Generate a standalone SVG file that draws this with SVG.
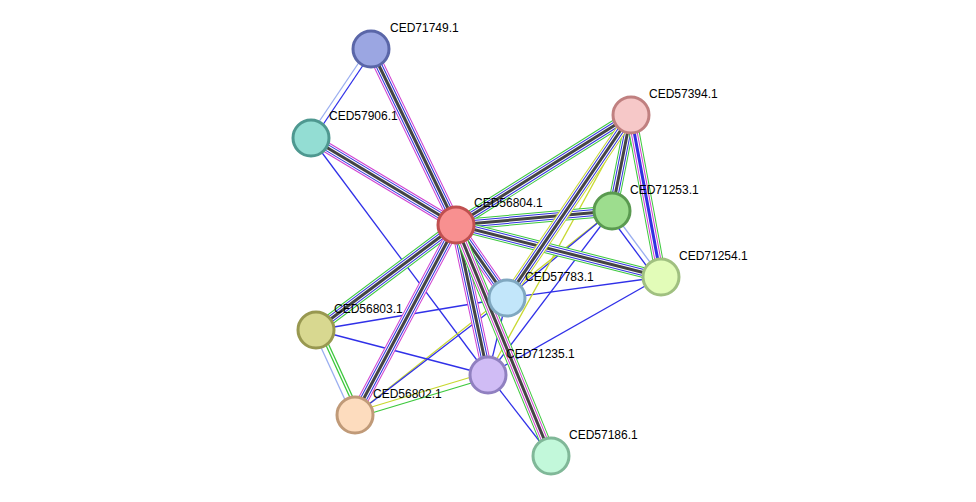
<svg xmlns="http://www.w3.org/2000/svg" width="976" height="502" viewBox="0 0 976 502">
<style>
.n{stroke-width:3}
text{font-family:"Liberation Sans",Arial,sans-serif;font-size:12px;fill:#000}
.a{stroke:#3cc83c;stroke-width:11}
.w1{stroke:#fff;stroke-width:9}
.b{stroke:#3030e0;stroke-width:7}
.w2{stroke:#fff;stroke-width:5}
.k{stroke:#444;stroke-width:3}
.m{stroke:#d040d0;stroke-width:11}
.t{stroke:#3030e8;stroke-width:1.3}
.y{stroke:#c8d830;stroke-width:1.3}
.lb{stroke:#9aaef0;stroke-width:1.3}
</style>
<defs>
<g id="dummy"/>
</defs>
<g id="edges" fill="none">
<g id="thin">
<line class="lb" x1="368" y1="49" x2="308" y2="138"/><line class="t" x1="374" y1="49" x2="314" y2="138"/>
<line class="t" x1="311" y1="138" x2="488" y2="375"/>
<line class="y" x1="612" y1="211" x2="355" y2="415"/>
<line class="t" x1="612" y1="211" x2="507" y2="298"/>
<line class="lb" x1="612" y1="211" x2="661" y2="277"/><line class="t" x1="608" y1="214" x2="657" y2="280"/>
<line class="t" x1="612" y1="211" x2="488" y2="375"/>
<line class="t" x1="661" y1="277" x2="507" y2="298"/>
<line class="t" x1="661" y1="277" x2="488" y2="375"/>
<line class="t" x1="507" y1="298" x2="316" y2="330"/>
<line class="t" x1="507" y1="298" x2="355" y2="415"/>
<line class="t" x1="507" y1="298" x2="488" y2="375"/>
<line class="t" x1="316" y1="330" x2="488" y2="375"/>
<line class="lb" x1="313" y1="330" x2="352" y2="415"/><line class="a" style="stroke-width:1.3" x1="319" y1="330" x2="358" y2="415"/><line class="a" style="stroke-width:1.3" x1="322" y1="330" x2="361" y2="415"/>
<line class="y" x1="355" y1="412" x2="488" y2="372"/><line class="a" style="stroke-width:1.3" x1="355" y1="418" x2="488" y2="378"/>
<line class="t" x1="488" y1="375" x2="551" y2="456"/>
<line class="y" x1="631" y1="115" x2="488" y2="375"/>
</g>
<g id="bundles">
<g id="b1"><line class="m" x1="456" y1="225" x2="371" y2="49"/><line class="w1" x1="456" y1="225" x2="371" y2="49"/><line class="b" x1="456" y1="225" x2="371" y2="49"/><line class="w2" x1="456" y1="225" x2="371" y2="49"/><line class="k" x1="456" y1="225" x2="371" y2="49"/></g>
<g id="b2"><line class="m" x1="456" y1="225" x2="311" y2="138"/><line class="w1" x1="456" y1="225" x2="311" y2="138"/><line class="b" x1="456" y1="225" x2="311" y2="138"/><line class="w2" x1="456" y1="225" x2="311" y2="138"/><line class="k" x1="456" y1="225" x2="311" y2="138"/></g>
<g id="b3"><line class="a" x1="456" y1="225" x2="631" y2="115"/><line class="w1" x1="456" y1="225" x2="631" y2="115"/><line class="b" x1="456" y1="225" x2="631" y2="115"/><line class="w2" x1="456" y1="225" x2="631" y2="115"/><line class="k" x1="456" y1="225" x2="631" y2="115"/></g>
<g id="b4"><line class="a" x1="456" y1="225" x2="612" y2="211"/><line class="w1" x1="456" y1="225" x2="612" y2="211"/><line class="b" x1="456" y1="225" x2="612" y2="211"/><line class="w2" x1="456" y1="225" x2="612" y2="211"/><line class="k" x1="456" y1="225" x2="612" y2="211"/></g>
<g id="b5"><line class="a" x1="456" y1="225" x2="661" y2="277"/><line class="w1" x1="456" y1="225" x2="661" y2="277"/><line class="b" x1="456" y1="225" x2="661" y2="277"/><line class="w2" x1="456" y1="225" x2="661" y2="277"/><line class="k" x1="456" y1="225" x2="661" y2="277"/></g>
<g id="b6"><line class="m" x1="456" y1="225" x2="507" y2="298"/><line class="w1" x1="456" y1="225" x2="507" y2="298"/><line class="b" x1="456" y1="225" x2="507" y2="298"/><line class="w2" x1="456" y1="225" x2="507" y2="298"/><line class="k" x1="456" y1="225" x2="507" y2="298"/></g>
<g id="b7"><line class="a" x1="456" y1="225" x2="316" y2="330"/><line class="w1" x1="456" y1="225" x2="316" y2="330"/><line class="b" x1="456" y1="225" x2="316" y2="330"/><line class="w2" x1="456" y1="225" x2="316" y2="330"/><line class="k" x1="456" y1="225" x2="316" y2="330"/></g>
<g id="b8"><line class="m" x1="456" y1="225" x2="355" y2="415"/><line class="w1" x1="456" y1="225" x2="355" y2="415"/><line class="b" x1="456" y1="225" x2="355" y2="415"/><line class="w2" x1="456" y1="225" x2="355" y2="415"/><line class="k" x1="456" y1="225" x2="355" y2="415"/></g>
<g id="b9"><line class="m" x1="456" y1="225" x2="488" y2="375"/><line class="w1" x1="456" y1="225" x2="488" y2="375"/><line class="b" x1="456" y1="225" x2="488" y2="375"/><line class="w2" x1="456" y1="225" x2="488" y2="375"/><line class="k" x1="456" y1="225" x2="488" y2="375"/></g>
<g id="b10"><line class="a" x1="456" y1="225" x2="551" y2="456"/><line class="w1" x1="456" y1="225" x2="551" y2="456"/><line class="m" style="stroke-width:7" x1="456" y1="225" x2="551" y2="456"/><line class="w2" x1="456" y1="225" x2="551" y2="456"/><line class="k" x1="456" y1="225" x2="551" y2="456"/></g>
<g id="b11"><line class="a" x1="631" y1="115" x2="612" y2="211"/><line class="w1" x1="631" y1="115" x2="612" y2="211"/><line class="b" x1="631" y1="115" x2="612" y2="211"/><line class="w2" x1="631" y1="115" x2="612" y2="211"/><line class="k" x1="631" y1="115" x2="612" y2="211"/></g>
<g id="b12"><line class="a" x1="631" y1="115" x2="661" y2="277"/><line class="w1" x1="631" y1="115" x2="661" y2="277"/><line class="m" style="stroke-width:7" x1="631" y1="115" x2="661" y2="277"/><line class="w2" x1="631" y1="115" x2="661" y2="277"/><line class="b" style="stroke-width:3" x1="631" y1="115" x2="661" y2="277"/></g>
<g id="b13"><line class="y" style="stroke-width:11" x1="631" y1="115" x2="507" y2="298"/><line class="w1" x1="631" y1="115" x2="507" y2="298"/><line class="b" x1="631" y1="115" x2="507" y2="298"/><line class="w2" x1="631" y1="115" x2="507" y2="298"/><line class="k" x1="631" y1="115" x2="507" y2="298"/></g>
</g>
</g>
<g id="CED71749.1"><circle class="n" cx="371" cy="49" r="18" fill="#9ba6e2" stroke="#5a66a8"/><text x="390" y="32">CED71749.1</text></g>
<g id="CED57906.1"><circle class="n" cx="311" cy="138" r="18" fill="#93ddd3" stroke="#4e9890"/><text x="329" y="120">CED57906.1</text></g>
<g id="CED57394.1"><circle class="n" cx="631" cy="115" r="18" fill="#f6c8c8" stroke="#c08080"/><text x="649" y="98">CED57394.1</text></g>
<g id="CED56804.1"><circle class="n" cx="456" cy="225" r="18" fill="#f89090" stroke="#c05050"/><text x="474" y="207">CED56804.1</text></g>
<g id="CED71253.1"><circle class="n" cx="612" cy="211" r="18" fill="#9ddd8e" stroke="#5a9a50"/><text x="630" y="194">CED71253.1</text></g>
<g id="CED71254.1"><circle class="n" cx="661" cy="277" r="18" fill="#e2fcb8" stroke="#a0c080"/><text x="679" y="260">CED71254.1</text></g>
<g id="CED57783.1"><circle class="n" cx="507" cy="298" r="18" fill="#c2e6fa" stroke="#80a8c0"/><text x="525" y="281">CED57783.1</text></g>
<g id="CED56803.1"><circle class="n" cx="316" cy="330" r="18" fill="#d8d890" stroke="#989850"/><text x="334" y="313">CED56803.1</text></g>
<g id="CED71235.1"><circle class="n" cx="488" cy="375" r="18" fill="#d0bcf5" stroke="#9080c0"/><text x="506" y="358">CED71235.1</text></g>
<g id="CED56802.1"><circle class="n" cx="355" cy="415" r="18" fill="#fddcbe" stroke="#c09a78"/><text x="373" y="398">CED56802.1</text></g>
<g id="CED57186.1"><circle class="n" cx="551" cy="456" r="18" fill="#c2f8da" stroke="#80b898"/><text x="569" y="439">CED57186.1</text></g>
</svg>
